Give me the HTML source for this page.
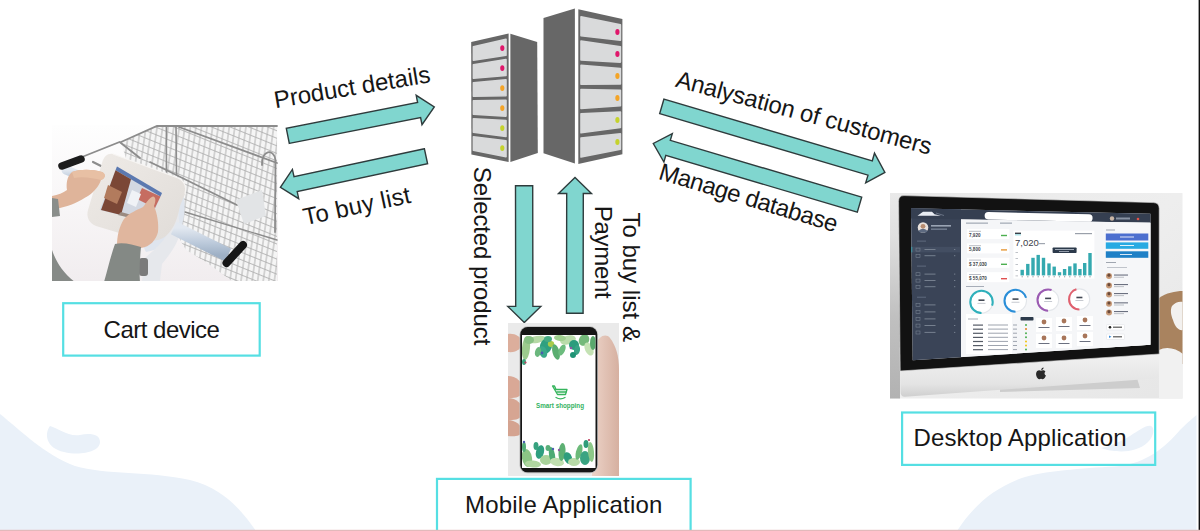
<!DOCTYPE html>
<html><head><meta charset="utf-8">
<style>
html,body{margin:0;padding:0;background:#fff;}
body{width:1200px;height:531px;overflow:hidden;position:relative;font-family:"Liberation Sans",sans-serif;}
svg{position:absolute;left:0;top:0;display:block;}
.ar{fill:#80d6cf;stroke:#2e3b3c;stroke-width:1.4;stroke-linejoin:miter;}
.t{font-family:"Liberation Sans",sans-serif;font-size:24px;fill:#161616;}
.box{fill:none;stroke:#55dfe3;stroke-width:2.2;}
</style></head>
<body>
<svg width="1200" height="531" viewBox="0 0 1200 531">
<!-- background blobs -->
<g fill="#eaf1f9">
<path d="M0,414 C20,430 45,455 75,466 C105,475 150,471 190,480 C222,488 240,508 256,531 L0,531 Z"/>
<path d="M50,426 C44,434 46,448 64,452 C80,456 100,452 100,442 C100,434 90,433 80,435 C68,437 58,428 50,426 Z"/>
<path d="M957,531 C972,508 992,488 1025,477 C1050,470 1090,468 1120,466 C1145,463 1165,448 1180,430 C1188,422 1193,418 1196.5,415 L1196.5,531 Z"/>
<path d="M1101,448 C1112,452 1135,455 1148,442 C1154,436 1155,428 1151,426 C1146,425 1140,430 1130,436 C1120,442 1110,446 1101,448 Z"/>
</g>

<!-- SERVERS -->
<g id="servers">
<polygon fill="#676767" points="471.2,41.9 508.6,33.4 508.6,162 471.4,154.6"/>
<polygon fill="#676767" points="510.4,33.8 537.2,41.9 537.8,153 510.4,162"/>
<polygon fill="#d9dadb" stroke="#d9dadb" stroke-width="1.6" stroke-linejoin="round" points="473.4,46.8 506.0,39.3 506.0,55.2 473.4,60.2"/>
<ellipse cx="502.3" cy="48.1" rx="2.1" ry="2.9" fill="#e0176b"/>
<polygon fill="#d9dadb" stroke="#d9dadb" stroke-width="1.6" stroke-linejoin="round" points="473.4,64.8 506.0,59.6 506.0,75.5 473.4,78.2"/>
<ellipse cx="502.3" cy="68.1" rx="2.1" ry="2.9" fill="#e0176b"/>
<polygon fill="#d9dadb" stroke="#d9dadb" stroke-width="1.6" stroke-linejoin="round" points="473.4,82.8 506.0,79.9 506.0,95.8 473.4,96.2"/>
<ellipse cx="502.3" cy="88.1" rx="2.1" ry="2.9" fill="#f4a427"/>
<polygon fill="#d9dadb" stroke="#d9dadb" stroke-width="1.6" stroke-linejoin="round" points="473.4,100.8 506.0,100.2 506.0,116.1 473.4,114.2"/>
<ellipse cx="502.3" cy="108.1" rx="2.1" ry="2.9" fill="#f4a427"/>
<polygon fill="#d9dadb" stroke="#d9dadb" stroke-width="1.6" stroke-linejoin="round" points="473.4,118.8 506.0,120.5 506.0,136.4 473.4,132.2"/>
<ellipse cx="502.3" cy="128.1" rx="2.1" ry="2.9" fill="#c5d22c"/>
<polygon fill="#d9dadb" stroke="#d9dadb" stroke-width="1.6" stroke-linejoin="round" points="473.4,136.8 506.0,140.8 506.0,156.7 473.4,150.2"/>
<ellipse cx="502.3" cy="148.1" rx="2.1" ry="2.9" fill="#c5d22c"/>
<polygon fill="#676767" points="543.5,18 574.9,8.6 574.9,163.4 543.5,153.3"/>
<polygon fill="#676767" points="578.3,9.3 622.4,19 622.4,154.2 578.3,164"/>
<polygon fill="#d9dadb" stroke="#d9dadb" stroke-width="1.6" stroke-linejoin="round" points="581.0,16.9 620.4,24.9 620.4,40.3 581.0,35.8"/>
<ellipse cx="617.4" cy="31.9" rx="2.1" ry="3" fill="#e0176b"/>
<polygon fill="#d9dadb" stroke="#d9dadb" stroke-width="1.6" stroke-linejoin="round" points="581.0,41.1 620.4,46.7 620.4,62.1 581.0,60.0"/>
<ellipse cx="617.4" cy="53.9" rx="2.1" ry="3" fill="#e0176b"/>
<polygon fill="#d9dadb" stroke="#d9dadb" stroke-width="1.6" stroke-linejoin="round" points="581.0,65.4 620.4,68.5 620.4,83.9 581.0,84.3"/>
<ellipse cx="617.4" cy="75.9" rx="2.1" ry="3" fill="#f4a427"/>
<polygon fill="#d9dadb" stroke="#d9dadb" stroke-width="1.6" stroke-linejoin="round" points="581.0,89.6 620.4,90.3 620.4,105.7 581.0,108.5"/>
<ellipse cx="617.4" cy="98.0" rx="2.1" ry="3" fill="#f4a427"/>
<polygon fill="#d9dadb" stroke="#d9dadb" stroke-width="1.6" stroke-linejoin="round" points="581.0,113.9 620.4,112.1 620.4,127.5 581.0,132.8"/>
<ellipse cx="617.4" cy="120.0" rx="2.1" ry="3" fill="#c5d22c"/>
<polygon fill="#d9dadb" stroke="#d9dadb" stroke-width="1.6" stroke-linejoin="round" points="581.0,138.1 620.4,133.9 620.4,149.3 581.0,157.0"/>
<ellipse cx="617.4" cy="142.0" rx="2.1" ry="3" fill="#c5d22c"/>

</g>

<!-- ARROWS -->
<polygon class="ar" points="289.3,143.4 420.6,117.5 422.0,124.7 434.3,107.0 416.2,95.3 417.6,102.5 286.3,128.4"/>
<polygon class="ar" points="424.4,148.8 294.0,176.6 292.4,169.4 280.4,187.3 298.7,198.7 297.2,191.6 427.6,163.8"/>
<polygon class="ar" points="515.5,185.7 515.7,306.4 507.8,306.4 524.3,322.4 540.8,306.4 532.9,306.4 532.7,185.7"/>
<polygon class="ar" points="583.1,313.3 583.3,193.5 591.5,193.5 575.0,177.5 558.5,193.5 566.7,193.5 566.5,313.3"/>
<polygon class="ar" points="659.7,113.6 868.0,175.2 865.7,182.9 884.9,172.4 874.5,153.2 872.3,160.8 663.9,99.2"/>
<polygon class="ar" points="861.7,197.1 670.3,140.4 672.3,133.7 653.3,143.5 663.9,162.0 665.8,155.4 857.3,212.1"/>

<!-- CART PHOTO -->
<g id="cart">
<defs>
<linearGradient id="cbg" x1="0" y1="0" x2="0" y2="1"><stop offset="0" stop-color="#fefefe"/><stop offset="0.5" stop-color="#f8f6f7"/><stop offset="1" stop-color="#f1edef"/></linearGradient>
<pattern id="mesh1" width="5.5" height="5.5" patternUnits="userSpaceOnUse" patternTransform="rotate(8)"><line x1="2.75" y1="0" x2="2.75" y2="5.5" stroke="#a8a8a8" stroke-width="0.85"/></pattern>
<pattern id="mesh2" width="7" height="7" patternUnits="userSpaceOnUse" patternTransform="rotate(22)"><line x1="0" y1="3.5" x2="7" y2="3.5" stroke="#b0b0b0" stroke-width="0.85"/></pattern>
<linearGradient id="tube" x1="0" y1="0" x2="0" y2="1"><stop offset="0" stop-color="#e2e8f0"/><stop offset="0.55" stop-color="#bccadb"/><stop offset="1" stop-color="#9eb0c5"/></linearGradient>
<linearGradient id="frm" x1="0" y1="0" x2="1" y2="1"><stop offset="0" stop-color="#efebe7"/><stop offset="1" stop-color="#e0dcd8"/></linearGradient>
<clipPath id="cartclip"><rect x="52" y="125" width="226" height="156"/></clipPath>
<clipPath id="meshclip"><polygon points="121,142 157,125.5 277,125.5 277,281 232,281 206,262 186,250 178,236 172,200 128,165"/></clipPath>
</defs>
<g clip-path="url(#cartclip)">
<rect x="52" y="125" width="226" height="156" fill="url(#cbg)"/>
<!-- basket mesh -->
<g clip-path="url(#meshclip)">
<rect x="110" y="120" width="170" height="165" fill="#f5f5f5"/>
<rect x="110" y="120" width="170" height="165" fill="url(#mesh1)"/>
<rect x="110" y="120" width="170" height="165" fill="url(#mesh2)"/>
</g>
<!-- structural bars -->
<g fill="none" stroke="#8c8c8c" stroke-linecap="round">
<polyline points="82,157 119.6,142 140,158" stroke-width="1.8"/>
<polyline points="121,142 157,126 277,126" stroke-width="1.8"/>
<line x1="166.4" y1="126" x2="166.4" y2="172" stroke-width="1.6"/>
<line x1="176" y1="126" x2="176.5" y2="175" stroke-width="1.6"/>
<line x1="179" y1="127" x2="277" y2="163" stroke-width="1.8"/>
<line x1="150" y1="162" x2="237" y2="205" stroke-width="1.6"/>
<line x1="185" y1="212" x2="277" y2="240" stroke-width="1.4"/>
<path d="M262,165 C261,150 274,148 275.5,160 L275,232" stroke-width="1.8"/>
<line x1="93" y1="162" x2="103" y2="167" stroke-width="2.2"/>
</g>
<polygon points="236,200 262,190 266,216 244,224" fill="#e2e4e6"/>
<!-- light blue handle tube (top-left) -->
<line x1="66" y1="170" x2="100" y2="184" stroke="url(#tube)" stroke-width="9" stroke-linecap="round"/>
<!-- black grip top-left -->
<line x1="62" y1="166" x2="81" y2="159" stroke="#1c1c1c" stroke-width="7.5" stroke-linecap="round"/>
<!-- white holder stem lower -->
<path d="M150,206 L183,194 C186,205 185,222 178,234 C170,244 158,250 146,252 C142,246 142,236 146,226 Z" fill="#dfe5ee"/>
<path d="M158,206 C166,210 170,222 168,232 C164,242 152,252 145,258 L142,281 L160,281 L162,264 C170,254 178,244 180,232 L178,206 Z" fill="#e6e8ec"/>
<!-- lower blue tube -->
<line x1="174" y1="228" x2="228" y2="255" stroke="url(#tube)" stroke-width="14" stroke-linecap="butt"/>
<line x1="226.5" y1="263" x2="243" y2="245" stroke="#161616" stroke-width="8" stroke-linecap="round"/>
<!-- caster -->
<rect x="139" y="258" width="9" height="18" fill="#7b7b7b" rx="3"/>
<!-- tablet frame -->
<path d="M113,154 L178,178 C185,181 187,188 185,194 L180,206 C178,216 175,228 166,236 C158,242 148,242 136,238 L96,226 C89,223 86,217 88,210 L102,163 C104,156 108,153 113,154 Z" fill="url(#frm)"/>
<path d="M113,154 L178,178 C185,181 187,188 185,194" fill="none" stroke="#f7f5f3" stroke-width="1.2"/>
<!-- screen -->
<polygon points="117,166.6 162,193 149.5,222.6 99.7,210" fill="#d3d8e2"/>
<polygon points="117,166.6 162,193 160.5,196.5 115.5,170.2" fill="#5c79b0"/>
<polygon points="115.5,170.2 131,179.3 121,215 101,210" fill="#7b4736"/>
<polygon points="108,185 122,192 117,204 104,198" fill="#b27b5d"/>
<polygon points="142,188 160.5,196.5 155,208 137,199" fill="#c35a4a" opacity="0.85"/>
<polygon points="132,190 141,194 136,207 127,203" fill="#f0f2f6"/>
<polygon points="121,212 146,219 149.5,222.6 118,215" fill="#9a8a80"/>
<!-- left hand -->
<path d="M52,196 C58,195 63,193 67,190 C66,184 67,176 72,172 C80,169 92,169 102,172 C106,174 106,178 101,180 C99,186 94,192 88,196 C80,201 70,206 60,208 L52,210 Z" fill="#dfb49a"/>
<path d="M72,172 C80,169 92,169 102,172 C106,174 106,178 101,180 C94,178 82,176 74,178 Z" fill="#e8c0a4"/>
<!-- left sleeve -->
<path d="M52,198 L58,199 L60,216 L52,217 Z" fill="#8a8e8b"/>
<path d="M52,250 C56,262 64,274 75,282 L52,282 Z" fill="#868a87"/>
<!-- right hand -->
<path d="M117,246 C117,236 119,227 124,219 C129,213 137,210 143,207 C147,202 150,197 153,196.5 C156,197 156,201 154,206 C157,213 159,223 158,232 C156,240 150,247 141,248 C133,249 124,249 117,246 Z" fill="#e0b69e"/>
<!-- right sleeve -->
<path d="M115,244 C124,242 133,245 141,247 C140,258 139,270 140,282 L104,282 C108,268 111,255 115,244 Z" fill="#848985"/>
</g>

</g>

<!-- PHONE PHOTO -->
<g id="phone">
<defs>
<clipPath id="phclip"><rect x="508" y="323" width="111" height="153"/></clipPath>
<clipPath id="scrclip"><rect x="522" y="335" width="73.5" height="133"/></clipPath>
<linearGradient id="skin2" x1="0" y1="0" x2="1" y2="0"><stop offset="0" stop-color="#ecd3c8"/><stop offset="1" stop-color="#d6b0a0"/></linearGradient>
</defs>
<g clip-path="url(#phclip)">
<rect x="508" y="323" width="111" height="153" fill="#eaeaea"/>
<!-- right hand / thumb -->
<path d="M596,345 C598,336 606,333 610,338 C616,346 619,356 619,370 L619,476 L592,476 Z" fill="url(#skin2)"/>
<!-- left fingers -->
<path d="M508,334 C514,333 521,336 522,342 C522,349 516,353 508,352 Z" fill="#dcae9c"/>
<path d="M508,376 C516,376 523,382 523,389 C523,395 518,398 512,398 L508,398 Z" fill="#d9a896"/>
<path d="M508,398 C516,398 523,404 523,411 C523,417 518,420 512,420 L508,420 Z" fill="#d6a592"/>
<path d="M508,420 C515,420 522,425 522,431 C521,436 515,437 508,436 Z" fill="#d4a390"/>
<!-- phone body -->
<rect x="519.5" y="326.3" width="78.5" height="147" rx="8" fill="#bdbdbd"/>
<rect x="520.3" y="327" width="76.9" height="145.3" rx="7.4" fill="#161616"/>
<rect x="522" y="335" width="73.5" height="133" fill="#ffffff"/>
<g clip-path="url(#scrclip)">
<ellipse cx="526.0" cy="348.0" rx="4.0" ry="12.0" fill="#9ccb8e" transform="rotate(5 526.0 348.0)"/>
<ellipse cx="537.0" cy="339.5" rx="9.0" ry="3.5" fill="#b5d9a5" transform="rotate(-10 537.0 339.5)"/>
<ellipse cx="529.0" cy="340.0" rx="5.0" ry="4.0" fill="#86c083" transform="rotate(0 529.0 340.0)"/>
<ellipse cx="546.0" cy="346.0" rx="6.0" ry="8.0" fill="#2fa080" transform="rotate(20 546.0 346.0)"/>
<ellipse cx="543.0" cy="352.0" rx="4.0" ry="6.0" fill="#3aa98a" transform="rotate(-20 543.0 352.0)"/>
<ellipse cx="551.0" cy="344.0" rx="3.2" ry="3.0" fill="#a8cc4a" transform="rotate(0 551.0 344.0)"/>
<ellipse cx="556.0" cy="352.0" rx="3.5" ry="8.0" fill="#5aae70" transform="rotate(-15 556.0 352.0)"/>
<ellipse cx="562.0" cy="350.0" rx="3.0" ry="6.0" fill="#6cbc7e" transform="rotate(25 562.0 350.0)"/>
<ellipse cx="568.0" cy="340.0" rx="8.0" ry="4.5" fill="#b9dcaa" transform="rotate(-15 568.0 340.0)"/>
<ellipse cx="574.0" cy="345.0" rx="5.0" ry="5.0" fill="#2c9c7c" transform="rotate(0 574.0 345.0)"/>
<ellipse cx="577.0" cy="350.0" rx="3.0" ry="5.0" fill="#38a384" transform="rotate(10 577.0 350.0)"/>
<ellipse cx="584.0" cy="340.0" rx="5.0" ry="6.0" fill="#74b97a" transform="rotate(30 584.0 340.0)"/>
<ellipse cx="589.0" cy="349.0" rx="4.0" ry="7.0" fill="#c4e2b4" transform="rotate(-25 589.0 349.0)"/>
<ellipse cx="593.0" cy="343.0" rx="3.0" ry="7.0" fill="#5aa86c" transform="rotate(0 593.0 343.0)"/>
<ellipse cx="560.0" cy="338.0" rx="6.0" ry="3.0" fill="#9fd08f" transform="rotate(5 560.0 338.0)"/>
<ellipse cx="538.0" cy="352.0" rx="3.0" ry="5.0" fill="#6bb77d" transform="rotate(15 538.0 352.0)"/>
<ellipse cx="573.0" cy="355.0" rx="3.0" ry="3.0" fill="#1f9375" transform="rotate(0 573.0 355.0)"/>
<ellipse cx="524.0" cy="362.0" rx="2.0" ry="3.0" fill="#3ba47f" transform="rotate(0 524.0 362.0)"/>
<ellipse cx="548.0" cy="339.0" rx="4.0" ry="3.0" fill="#46ab84" transform="rotate(0 548.0 339.0)"/>
<circle cx="542" cy="353" r="1.4" fill="#4a5cb0"/><circle cx="571" cy="348" r="1.3" fill="#8a5aa0"/><circle cx="525.5" cy="362.5" r="1.1" fill="#c04060"/>
<ellipse cx="527.0" cy="458.0" rx="5.0" ry="9.0" fill="#8cc585" transform="rotate(-10 527.0 458.0)"/>
<ellipse cx="533.0" cy="464.0" rx="8.0" ry="3.5" fill="#b0d6a0" transform="rotate(5 533.0 464.0)"/>
<ellipse cx="540.0" cy="452.0" rx="4.0" ry="7.0" fill="#2f9f80" transform="rotate(15 540.0 452.0)"/>
<ellipse cx="546.0" cy="460.0" rx="6.0" ry="5.0" fill="#a9d39b" transform="rotate(0 546.0 460.0)"/>
<ellipse cx="552.0" cy="455.0" rx="3.0" ry="8.0" fill="#4caa74" transform="rotate(-10 552.0 455.0)"/>
<ellipse cx="557.0" cy="462.0" rx="7.0" ry="4.0" fill="#c0dfb0" transform="rotate(10 557.0 462.0)"/>
<ellipse cx="562.0" cy="452.0" rx="3.5" ry="9.0" fill="#5db073" transform="rotate(5 562.0 452.0)"/>
<ellipse cx="568.0" cy="458.0" rx="4.0" ry="6.0" fill="#2e9d7d" transform="rotate(-20 568.0 458.0)"/>
<ellipse cx="574.0" cy="462.0" rx="6.0" ry="4.0" fill="#b8dba8" transform="rotate(0 574.0 462.0)"/>
<ellipse cx="579.0" cy="452.0" rx="3.0" ry="8.0" fill="#6cba7a" transform="rotate(15 579.0 452.0)"/>
<ellipse cx="585.0" cy="458.0" rx="5.0" ry="7.0" fill="#3aa482" transform="rotate(0 585.0 458.0)"/>
<ellipse cx="591.0" cy="452.0" rx="3.0" ry="10.0" fill="#8cc888" transform="rotate(-5 591.0 452.0)"/>
<ellipse cx="536.0" cy="446.0" rx="2.5" ry="4.0" fill="#37a27f" transform="rotate(0 536.0 446.0)"/>
<ellipse cx="586.0" cy="444.0" rx="2.5" ry="4.0" fill="#2f9c7a" transform="rotate(0 586.0 444.0)"/>
<ellipse cx="524.0" cy="447.0" rx="2.0" ry="5.0" fill="#55ad78" transform="rotate(0 524.0 447.0)"/>
<ellipse cx="548.0" cy="448.0" rx="2.5" ry="3.0" fill="#59af79" transform="rotate(0 548.0 448.0)"/>
<circle cx="524" cy="442" r="1.2" fill="#4a5cb0"/><circle cx="559" cy="450" r="1.2" fill="#8a5aa0"/><circle cx="589" cy="440" r="1.1" fill="#c04060"/><circle cx="553" cy="449" r="1.2" fill="#4a5cb0"/>

</g>
<!-- cart icon -->
<g fill="none" stroke="#35b45c" stroke-width="1.3" stroke-linejoin="round" stroke-linecap="round">
<path d="M552.5,386 L554.5,386 L556,389.5 L567,389.5 L565.5,394.5 L557.5,394.5 Z"/>
<path d="M556.8,392 L566,392"/>
<path d="M556,397.5 C559,399.3 562,399.3 565,397.5"/>
</g>
<text x="560" y="407.8" text-anchor="middle" font-family="Liberation Sans, sans-serif" font-weight="bold" font-size="7" fill="#33b35f" textLength="48" lengthAdjust="spacingAndGlyphs">Smart shopping</text>
</g>

</g>

<!-- DESKTOP PHOTO -->
<g id="desk">
<defs>
<clipPath id="dkclip"><rect x="890" y="193" width="292.5" height="205.5"/></clipPath>
<linearGradient id="dkbg" x1="0" y1="0" x2="1" y2="1"><stop offset="0" stop-color="#e9e9e9"/><stop offset="0.5" stop-color="#eeeeee"/><stop offset="1" stop-color="#e6e6e6"/></linearGradient>
<linearGradient id="chin" x1="0" y1="0" x2="0" y2="1"><stop offset="0" stop-color="#f1f1f1"/><stop offset="0.7" stop-color="#e4e4e4"/><stop offset="1" stop-color="#cfcfcf"/></linearGradient>
<linearGradient id="lbg" x1="0" y1="0" x2="0" y2="1"><stop offset="0" stop-color="#e9e9e9"/><stop offset="0.2" stop-color="#e0e0e0"/><stop offset="0.6" stop-color="#c0c0c0"/><stop offset="1" stop-color="#b2b2b2"/></linearGradient>
<clipPath id="scrc"><polygon points="911,208.2 1150.4,213.8 1150.4,344.8 912.7,360.3"/></clipPath>
</defs>
<g clip-path="url(#dkclip)">
<rect x="890" y="193" width="293" height="206" fill="url(#dkbg)"/>
<rect x="890" y="193" width="10" height="206" fill="url(#lbg)"/>
<!-- wood object -->
<path d="M1159,298 C1166,293 1175,291 1183,291 L1183,364 L1159,364 Z" fill="#a9835f"/>
<path d="M1172,306 C1175,302 1180,301 1183,302 L1183,330 C1179,331 1175,327 1173,320 C1171,315 1170,310 1172,306 Z" fill="#f3f1ef"/>
<path d="M1159,350 C1166,346 1176,348 1183,354 L1183,399 L1159,399 Z" fill="#f1f1f1"/>
<!-- stand / base -->
<path d="M1000,384 L1137,378 L1140,388 L1000,392 Z" fill="#cdcdcd"/>
<!-- chin -->
<path d="M900,370.9 L1159,353.9 L1159,374 Q1159,378 1155,378.4 L905,396.8 Q900.6,397 900.6,392 Z" fill="url(#chin)"/>
<!-- bezel -->
<path d="M904,195.6 L1153.5,202.6 Q1159.2,202.8 1159.2,208.5 L1159.2,354 L900.2,371 L898.6,201.2 Q898.6,195.6 904,195.6 Z" fill="#121212" stroke="#d8d8d8" stroke-width="0.6"/>
<!-- apple logo -->
<g transform="translate(1041,374)" fill="#2a2a2a">
<path d="M0,-3.2 C-1.5,-4.3 -4.5,-4 -4.9,-0.6 C-5.2,2.2 -3.2,5 -1.8,5.2 C-1,5.3 -0.5,4.8 0,4.8 C0.6,4.8 1.1,5.3 1.9,5.2 C3.1,5 4.4,3 4.9,1.4 C3.4,0.8 3,-1.6 4.4,-2.6 C3.4,-4 1.4,-4.2 0,-3.2 Z"/>
<path d="M0.2,-3.8 C0.2,-5.3 1.4,-6.3 2.6,-6.4 C2.6,-5 1.6,-3.9 0.2,-3.8 Z"/>
</g>
<!-- screen -->
<g clip-path="url(#scrc)">
<rect x="911" y="205" width="241" height="156" fill="#f5f6f8"/>
<rect x="911" y="205" width="50" height="156" fill="#3a4457"/>
<polygon points="911,205 1152,205 1152,222.7 911,218.5" fill="#353f51"/>
<!-- search pill -->
<rect x="984.6" y="213.2" width="108" height="7.4" rx="3.7" fill="#ffffff" transform="rotate(1.3 1038 217)"/>
<!-- top right avatar -->
<circle cx="1112" cy="218.5" r="2.2" fill="#c9b6a6"/>
<rect x="1116" y="217.5" width="14" height="2" fill="#8a93a3"/>
<circle cx="1138" cy="219" r="1.3" fill="#e0524a"/>
<!-- content area -->
<polygon points="961,219.5 1152,222.8 1152,352 961,357" fill="#f5f6f8"/>

<polygon points="917.5,215.8 923,211.8 932,211.8 934.5,214.3 941,215.8" fill="#e8ecf2"/><path d="M936,213 L944,215.5" stroke="#8a94a6" stroke-width="0.6"/>
<circle cx="923" cy="227.5" r="5.3" fill="#e9e2dc"/><circle cx="923" cy="226.3" r="2.4" fill="#b88d70"/><path d="M918.6,230.8 Q923,226.5 927.4,230.8 L927,232 Q923,233.5 919,232 Z" fill="#5d6a80"/>
<rect x="931" y="225" width="20" height="1.6" fill="#9aa4b4"/><rect x="931" y="228.5" width="16" height="1.3" fill="#7b8598"/>
<rect x="917" y="240.6" width="9" height="1" fill="#5f6a7e"/>
<rect x="911" y="246.8" width="49" height="5.6" fill="#434e62"/><rect x="911" y="246.8" width="1.2" height="5.6" fill="#36b4c0"/>
<rect x="916" y="248.1" width="4" height="3" fill="none" stroke="#75808f" stroke-width="0.6"/><rect x="924.5" y="249.0" width="11" height="1" fill="#76808f"/><rect x="954" y="249.0" width="1.3" height="1" fill="#76808f"/>
<rect x="916" y="254.3" width="4" height="3" fill="none" stroke="#75808f" stroke-width="0.6"/><rect x="924.5" y="255.2" width="11" height="1" fill="#76808f"/><rect x="954" y="255.2" width="1.3" height="1" fill="#76808f"/>
<rect x="916" y="272.7" width="4" height="3" fill="none" stroke="#75808f" stroke-width="0.6"/><rect x="924.5" y="273.6" width="11" height="1" fill="#76808f"/><rect x="954" y="273.6" width="1.3" height="1" fill="#76808f"/>
<rect x="916" y="279.1" width="4" height="3" fill="none" stroke="#75808f" stroke-width="0.6"/><rect x="924.5" y="280.0" width="11" height="1" fill="#76808f"/><rect x="954" y="280.0" width="1.3" height="1" fill="#76808f"/>
<rect x="916" y="285.3" width="4" height="3" fill="none" stroke="#75808f" stroke-width="0.6"/><rect x="924.5" y="286.2" width="11" height="1" fill="#76808f"/><rect x="954" y="286.2" width="1.3" height="1" fill="#76808f"/>
<rect x="916" y="303.5" width="4" height="3" fill="none" stroke="#75808f" stroke-width="0.6"/><rect x="924.5" y="304.4" width="11" height="1" fill="#76808f"/><rect x="954" y="304.4" width="1.3" height="1" fill="#76808f"/>
<rect x="916" y="310.5" width="4" height="3" fill="none" stroke="#75808f" stroke-width="0.6"/><rect x="924.5" y="311.4" width="11" height="1" fill="#76808f"/><rect x="954" y="311.4" width="1.3" height="1" fill="#76808f"/>
<rect x="916" y="317.5" width="4" height="3" fill="none" stroke="#75808f" stroke-width="0.6"/><rect x="924.5" y="318.4" width="11" height="1" fill="#76808f"/><rect x="954" y="318.4" width="1.3" height="1" fill="#76808f"/>
<rect x="916" y="324.1" width="4" height="3" fill="none" stroke="#75808f" stroke-width="0.6"/><rect x="924.5" y="325.0" width="11" height="1" fill="#76808f"/><rect x="954" y="325.0" width="1.3" height="1" fill="#76808f"/>
<rect x="916" y="331.0" width="4" height="3" fill="none" stroke="#75808f" stroke-width="0.6"/><rect x="924.5" y="331.9" width="11" height="1" fill="#76808f"/><rect x="954" y="331.9" width="1.3" height="1" fill="#76808f"/>
<rect x="917" y="265.6" width="9" height="1" fill="#5f6a7e"/><rect x="917" y="296.7" width="9" height="1" fill="#5f6a7e"/>
<rect x="966" y="222.5" width="22" height="1.3" fill="#a7adb8"/><rect x="1000" y="222.5" width="12" height="1.3" fill="#a7adb8"/>
<rect x="967" y="229.0" width="42.4" height="10" fill="#ffffff"/>
<rect x="969" y="230.8" width="12" height="1" fill="#b8bcc4"/>
<text x="969" y="237.0" font-family="Liberation Sans, sans-serif" font-size="4.6" font-weight="bold" fill="#3a3f48">7,920</text>
<rect x="1001" y="234.8" width="6" height="1.4" fill="#4caf50"/>
<rect x="967" y="243.4" width="42.4" height="10" fill="#ffffff"/>
<rect x="969" y="245.2" width="12" height="1" fill="#b8bcc4"/>
<text x="969" y="251.4" font-family="Liberation Sans, sans-serif" font-size="4.6" font-weight="bold" fill="#3a3f48">5,800</text>
<rect x="1001" y="249.2" width="6" height="1.4" fill="#e69a3a"/>
<rect x="967" y="257.8" width="42.4" height="10" fill="#ffffff"/>
<rect x="969" y="259.6" width="12" height="1" fill="#b8bcc4"/>
<text x="969" y="265.8" font-family="Liberation Sans, sans-serif" font-size="4.6" font-weight="bold" fill="#3a3f48">$ 37,030</text>
<rect x="1001" y="263.6" width="6" height="1.4" fill="#4caf50"/>
<rect x="967" y="272.2" width="42.4" height="10" fill="#ffffff"/>
<rect x="969" y="274.0" width="12" height="1" fill="#b8bcc4"/>
<text x="969" y="280.2" font-family="Liberation Sans, sans-serif" font-size="4.6" font-weight="bold" fill="#3a3f48">$ 55,070</text>
<rect x="1001" y="278.0" width="6" height="1.4" fill="#e05050"/>
<rect x="1013.4" y="230.6" width="81" height="48" fill="#ffffff"/>
<rect x="1015" y="232.6" width="6" height="1.4" fill="#3a3f48"/><rect x="1015" y="234.6" width="6" height="0.6" fill="#36b4c0"/><rect x="1075" y="233" width="17" height="1.2" fill="#9aa0aa"/>
<text x="1015" y="246" font-family="Liberation Sans, sans-serif" font-size="9.5" fill="#3c414a">7,020</text><rect x="1038" y="243" width="7" height="1.2" fill="#a0a6b0"/>
<rect x="1020.5" y="269.8" width="3.4" height="5.6" fill="#34a9af"/>
<rect x="1021.6" y="276.3" width="1.2" height="1" fill="#8a8f98"/>
<rect x="1026.1" y="263.9" width="3.4" height="11.5" fill="#34a9af"/>
<rect x="1027.2" y="276.3" width="1.2" height="1" fill="#8a8f98"/>
<rect x="1031.3" y="257.8" width="3.4" height="17.6" fill="#34a9af"/>
<rect x="1032.4" y="276.3" width="1.2" height="1" fill="#8a8f98"/>
<rect x="1036.5" y="254.9" width="3.4" height="20.5" fill="#34a9af"/>
<rect x="1037.6" y="276.3" width="1.2" height="1" fill="#8a8f98"/>
<rect x="1041.8" y="257.8" width="3.4" height="17.6" fill="#34a9af"/>
<rect x="1042.9" y="276.3" width="1.2" height="1" fill="#8a8f98"/>
<rect x="1047.3" y="263.4" width="3.4" height="12.0" fill="#34a9af"/>
<rect x="1048.4" y="276.3" width="1.2" height="1" fill="#8a8f98"/>
<rect x="1052.5" y="266.6" width="3.4" height="8.8" fill="#34a9af"/>
<rect x="1053.6" y="276.3" width="1.2" height="1" fill="#8a8f98"/>
<rect x="1057.8" y="272.2" width="3.4" height="3.2" fill="#34a9af"/>
<rect x="1058.9" y="276.3" width="1.2" height="1" fill="#8a8f98"/>
<rect x="1062.9" y="269.0" width="3.4" height="6.4" fill="#34a9af"/>
<rect x="1064.0" y="276.3" width="1.2" height="1" fill="#8a8f98"/>
<rect x="1068.1" y="266.3" width="3.4" height="9.1" fill="#34a9af"/>
<rect x="1069.2" y="276.3" width="1.2" height="1" fill="#8a8f98"/>
<rect x="1073.3" y="263.4" width="3.4" height="12.0" fill="#34a9af"/>
<rect x="1074.4" y="276.3" width="1.2" height="1" fill="#8a8f98"/>
<rect x="1078.2" y="269.0" width="3.4" height="6.4" fill="#34a9af"/>
<rect x="1079.3" y="276.3" width="1.2" height="1" fill="#8a8f98"/>
<rect x="1083.0" y="263.0" width="3.4" height="12.4" fill="#34a9af"/>
<rect x="1084.1" y="276.3" width="1.2" height="1" fill="#8a8f98"/>
<rect x="1088.3" y="253.0" width="3.4" height="22.4" fill="#34a9af"/>
<rect x="1089.4" y="276.3" width="1.2" height="1" fill="#8a8f98"/>
<rect x="1015.5" y="252.0" width="2.5" height="0.8" fill="#b0b4bb"/>
<rect x="1015.5" y="258.0" width="2.5" height="0.8" fill="#b0b4bb"/>
<rect x="1015.5" y="264.0" width="2.5" height="0.8" fill="#b0b4bb"/>
<rect x="1015.5" y="270.0" width="2.5" height="0.8" fill="#b0b4bb"/>
<rect x="1015.5" y="275.5" width="2.5" height="0.8" fill="#b0b4bb"/>
<rect x="1052.6" y="247.4" width="24" height="5.6" rx="0.8" fill="#2c3a4b"/><rect x="1055" y="249" width="19" height="0.8" fill="#c0c8d4"/><rect x="1059" y="251" width="10" height="0.7" fill="#c0c8d4"/>
<rect x="1103" y="222.8" width="49" height="130" fill="#f6f7f9"/>
<rect x="1106" y="229.5" width="9" height="1" fill="#a0a6b0"/>
<rect x="1105.8" y="233.5" width="42.5" height="7" fill="#4c6fcf"/><rect x="1120" y="236.5" width="14" height="1" fill="#dfe6fa"/>
<rect x="1105.8" y="242.4" width="42.5" height="6.4" fill="#28aae2"/><rect x="1120" y="245" width="14" height="1" fill="#dff2fb"/>
<rect x="1105.8" y="251.3" width="42.5" height="6.5" fill="#1f80c6"/><rect x="1120" y="254" width="12" height="1" fill="#d8e8f6"/>
<rect x="1106" y="262" width="10" height="1" fill="#a0a6b0"/><rect x="1107" y="267" width="20" height="1" fill="#c0c4cb"/>
<circle cx="1109" cy="276.0" r="3" fill="#c79a78"/><circle cx="1109" cy="275.2" r="1.6" fill="#6b4a3a"/><rect x="1114" y="274.5" width="14" height="1.1" fill="#6b7080"/><rect x="1114" y="276.8" width="10" height="0.8" fill="#b0b4bb"/>
<circle cx="1109" cy="285.5" r="3" fill="#c79a78"/><circle cx="1109" cy="284.7" r="1.6" fill="#6b4a3a"/><rect x="1114" y="284.0" width="14" height="1.1" fill="#6b7080"/><rect x="1114" y="286.3" width="10" height="0.8" fill="#b0b4bb"/>
<circle cx="1109" cy="294.5" r="3" fill="#c79a78"/><circle cx="1109" cy="293.7" r="1.6" fill="#6b4a3a"/><rect x="1114" y="293.0" width="14" height="1.1" fill="#6b7080"/><rect x="1114" y="295.3" width="10" height="0.8" fill="#b0b4bb"/>
<circle cx="1109" cy="303.8" r="3" fill="#c79a78"/><circle cx="1109" cy="303.0" r="1.6" fill="#6b4a3a"/><rect x="1114" y="302.3" width="14" height="1.1" fill="#6b7080"/><rect x="1114" y="304.6" width="10" height="0.8" fill="#b0b4bb"/>
<circle cx="1109" cy="312.5" r="3" fill="#c79a78"/><circle cx="1109" cy="311.7" r="1.6" fill="#6b4a3a"/><rect x="1114" y="311.0" width="14" height="1.1" fill="#6b7080"/><rect x="1114" y="313.3" width="10" height="0.8" fill="#b0b4bb"/>
<rect x="1106.5" y="324.5" width="18" height="5.5" rx="1" fill="#ffffff" stroke="#dcdfe4" stroke-width="0.5"/><circle cx="1110" cy="327.2" r="1.3" fill="#222"/><rect x="1113" y="326.6" width="9" height="1.2" fill="#555"/>
<rect x="1106.5" y="334" width="18" height="5.5" rx="1" fill="#ffffff" stroke="#dcdfe4" stroke-width="0.5"/><path d="M1109,335.5 L1111.5,336.8 L1109,338 Z" fill="#3a8ad8"/><rect x="1113" y="336.2" width="9" height="1.2" fill="#555"/>
<rect x="966" y="286" width="18" height="1" fill="#a7adb8"/>
<circle cx="981.5" cy="301.9" r="11.2" fill="#ffffff" stroke="#e3e6ea" stroke-width="1.1"/>
<circle cx="981.5" cy="301.9" r="11.2" fill="none" stroke="#2fb0bb" stroke-width="2.1" stroke-dasharray="56.3 70.4" transform="rotate(90 981.5 301.9)"/>
<rect x="978.5" y="299.4" width="6" height="1.6" fill="#444a55"/><rect x="977.5" y="302.9" width="8" height="0.8" fill="#b8bcc4"/>
<circle cx="1015.5" cy="300.8" r="11.0" fill="#ffffff" stroke="#e3e6ea" stroke-width="1.1"/>
<circle cx="1015.5" cy="300.8" r="11.0" fill="none" stroke="#2a8ed8" stroke-width="2.1" stroke-dasharray="48.4 69.1" transform="rotate(90 1015.5 300.8)"/>
<rect x="1012.5" y="298.3" width="6" height="1.6" fill="#444a55"/><rect x="1011.5" y="301.8" width="8" height="0.8" fill="#b8bcc4"/>
<circle cx="1048.1" cy="300.1" r="10.6" fill="#ffffff" stroke="#e3e6ea" stroke-width="1.1"/>
<circle cx="1048.1" cy="300.1" r="10.6" fill="none" stroke="#9b5bb2" stroke-width="2.1" stroke-dasharray="36.6 66.6" transform="rotate(90 1048.1 300.1)"/>
<rect x="1045.1" y="297.6" width="6" height="1.6" fill="#444a55"/><rect x="1044.1" y="301.1" width="8" height="0.8" fill="#b8bcc4"/>
<circle cx="1079.4" cy="299.2" r="10.3" fill="#ffffff" stroke="#e3e6ea" stroke-width="1.1"/>
<circle cx="1079.4" cy="299.2" r="10.3" fill="none" stroke="#e0606e" stroke-width="2.1" stroke-dasharray="29.1 64.7" transform="rotate(90 1079.4 299.2)"/>
<rect x="1076.4" y="296.7" width="6" height="1.6" fill="#444a55"/><rect x="1075.4" y="300.2" width="8" height="0.8" fill="#b8bcc4"/>
<rect x="966" y="314" width="46" height="40" fill="#ffffff"/><rect x="968" y="318.5" width="10" height="1" fill="#a7adb8"/>
<rect x="973" y="324.5" width="10" height="1.2" fill="#555b66"/><rect x="988" y="324.5" width="20" height="1" fill="#9ea4ae"/><rect x="1013" y="324.5" width="4" height="1" fill="#9ea4ae"/><circle cx="1026" cy="325.0" r="1" fill="#4caf50"/>
<rect x="973" y="328.6" width="10" height="1.2" fill="#555b66"/><rect x="988" y="328.6" width="20" height="1" fill="#9ea4ae"/><rect x="1013" y="328.6" width="4" height="1" fill="#9ea4ae"/><circle cx="1026" cy="329.1" r="1" fill="#e67e22"/>
<rect x="973" y="332.7" width="10" height="1.2" fill="#555b66"/><rect x="988" y="332.7" width="20" height="1" fill="#9ea4ae"/><rect x="1013" y="332.7" width="4" height="1" fill="#9ea4ae"/><circle cx="1026" cy="333.2" r="1" fill="#4caf50"/>
<rect x="973" y="336.8" width="10" height="1.2" fill="#555b66"/><rect x="988" y="336.8" width="20" height="1" fill="#9ea4ae"/><rect x="1013" y="336.8" width="4" height="1" fill="#9ea4ae"/><circle cx="1026" cy="337.3" r="1" fill="#4caf50"/>
<rect x="973" y="340.9" width="10" height="1.2" fill="#555b66"/><rect x="988" y="340.9" width="20" height="1" fill="#9ea4ae"/><rect x="1013" y="340.9" width="4" height="1" fill="#9ea4ae"/><circle cx="1026" cy="341.4" r="1" fill="#f1c40f"/>
<rect x="973" y="345.0" width="10" height="1.2" fill="#555b66"/><rect x="988" y="345.0" width="20" height="1" fill="#9ea4ae"/><rect x="1013" y="345.0" width="4" height="1" fill="#9ea4ae"/><circle cx="1026" cy="345.5" r="1" fill="#f1c40f"/>
<rect x="973" y="349.1" width="10" height="1.2" fill="#555b66"/><rect x="988" y="349.1" width="20" height="1" fill="#9ea4ae"/><rect x="1013" y="349.1" width="4" height="1" fill="#9ea4ae"/><circle cx="1026" cy="349.6" r="1" fill="#4caf50"/>
<rect x="1020.5" y="317" width="13" height="3.5" rx="0.8" fill="#2c3a4b"/>
<rect x="1036.0" y="318.0" width="16" height="14" fill="#ffffff"/><circle cx="1044.0" cy="322.0" r="2.4" fill="#a8765a"/><rect x="1038.5" y="327.0" width="11" height="1" fill="#6b7080"/>
<rect x="1056.0" y="317.0" width="16" height="14" fill="#ffffff"/><circle cx="1064.0" cy="321.0" r="2.4" fill="#a8765a"/><rect x="1058.5" y="326.0" width="11" height="1" fill="#6b7080"/>
<rect x="1077.0" y="316.0" width="16" height="14" fill="#ffffff"/><circle cx="1085.0" cy="320.0" r="2.4" fill="#a8765a"/><rect x="1079.5" y="325.0" width="11" height="1" fill="#6b7080"/>
<rect x="1036.0" y="334.0" width="16" height="14" fill="#ffffff"/><circle cx="1044.0" cy="338.0" r="2.4" fill="#a8765a"/><rect x="1038.5" y="343.0" width="11" height="1" fill="#6b7080"/>
<rect x="1056.0" y="334.0" width="16" height="14" fill="#ffffff"/><circle cx="1064.0" cy="338.0" r="2.4" fill="#a8765a"/><rect x="1058.5" y="343.0" width="11" height="1" fill="#6b7080"/>
<rect x="1077.0" y="332.0" width="16" height="14" fill="#ffffff"/><circle cx="1085.0" cy="336.0" r="2.4" fill="#a8765a"/><rect x="1079.5" y="341.0" width="11" height="1" fill="#6b7080"/>
</g>
</g>

</g>

<!-- BOXES -->
<rect class="box" x="63.2" y="303.2" width="196.5" height="52.4"/>
<rect class="box" x="437" y="478.9" width="253.6" height="60"/>
<rect class="box" x="902.1" y="412.5" width="253.1" height="52.4"/>

<!-- TEXT -->
<text class="t" x="103.6" y="337.5" textLength="116.3" lengthAdjust="spacing">Cart device</text>
<text class="t" x="464.9" y="513.2" textLength="197.5" lengthAdjust="spacing">Mobile Application</text>
<text class="t" x="913.5" y="446.4" textLength="213" lengthAdjust="spacing">Desktop Application</text>
<text class="t" transform="translate(275.4,108.2) rotate(-9.5)" textLength="158" lengthAdjust="spacing">Product details</text>
<text class="t" transform="translate(305.1,225.2) rotate(-12)" textLength="109" lengthAdjust="spacing">To buy list</text>
<text class="t" transform="translate(674.4,86.5) rotate(15)" textLength="264" lengthAdjust="spacing">Analysation of customers</text>
<text class="t" transform="translate(657.6,178.7) rotate(16.8)" textLength="185.3" lengthAdjust="spacing">Manage database</text>
<text class="t" transform="translate(474,166.8) rotate(90)" textLength="178.5" lengthAdjust="spacing">Selected product</text>
<text class="t" transform="translate(622.7,212.4) rotate(90)" textLength="129.5" lengthAdjust="spacing">To buy list &amp;</text>
<text class="t" transform="translate(594.6,205.8) rotate(90)" textLength="92.9" lengthAdjust="spacing">Payment</text>

<!-- edges -->
<rect x="1198.6" y="0" width="1.4" height="531" fill="#111"/>
<rect x="0" y="529.8" width="1200" height="1.2" fill="#e2b9bb"/>
</svg>
</body></html>
